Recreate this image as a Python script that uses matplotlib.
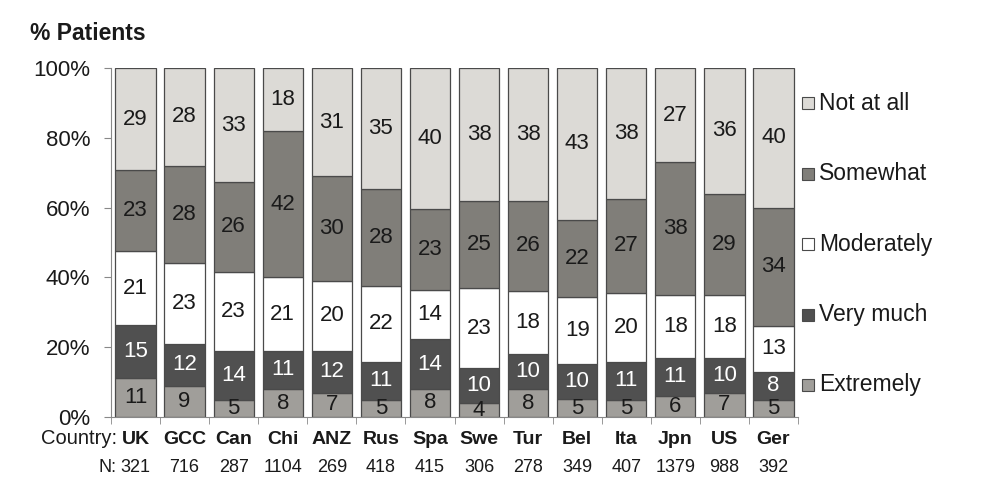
import numpy as np
import matplotlib.pyplot as plt
from matplotlib.patches import Rectangle

plt.rcParams['font.family'] = ['Liberation Sans', 'DejaVu Sans']

countries = ['UK', 'GCC', 'Can', 'Chi', 'ANZ', 'Rus', 'Spa', 'Swe', 'Tur', 'Bel', 'Ita', 'Jpn', 'US', 'Ger']
n_patients = [321, 716, 287, 1104, 269, 418, 415, 306, 278, 349, 407, 1379, 988, 392]

categories = ['Extremely', 'Very much', 'Moderately', 'Somewhat', 'Not at all']
extremely = [11, 9, 5, 8, 7, 5, 8, 4, 8, 5, 5, 6, 7, 5]
very_much = [15, 12, 14, 11, 12, 11, 14, 10, 10, 10, 11, 11, 10, 8]
moderately = [21, 23, 23, 21, 20, 22, 14, 23, 18, 19, 20, 18, 18, 13]
somewhat = [23, 28, 26, 42, 30, 28, 23, 25, 26, 22, 27, 38, 29, 34]
not_at_all = [29, 28, 33, 18, 31, 35, 40, 38, 38, 43, 38, 27, 36, 40]

colors = ['#a09e9a', '#505050', '#ffffff', '#807e79', '#dcdad6']
text_colors = ['#1a1a1a', 'white', '#1a1a1a', '#1a1a1a', '#1a1a1a']
edge = '#4a4a4a'

series = np.array([extremely, very_much, moderately, somewhat, not_at_all], dtype=float)
scaled = series / series.sum(axis=0) * 100

fig = plt.figure(figsize=(9.83, 4.99), dpi=100)
ax = fig.add_axes([111 / 983, 1 - 417 / 499, 687 / 983, 349 / 499])

x = np.arange(len(countries))
bottom = np.zeros(len(countries))
for i in range(len(categories)):
    ax.bar(x, scaled[i], 0.82, bottom=bottom, color=colors[i], edgecolor=edge, linewidth=0.9)
    for j in range(len(countries)):
        ax.text(x[j], bottom[j] + scaled[i][j] / 2, str(int(series[i][j])),
                ha='center', va='center', fontsize=16, color=text_colors[i])
    bottom += scaled[i]

ax.set_xlim(-0.5, len(countries) - 0.5)
ax.set_ylim(0, 100)
ax.set_yticks([0, 20, 40, 60, 80, 100])
ax.set_yticklabels(['0%', '20%', '40%', '60%', '80%', '100%'], fontsize=16, color='#1a1a1a')
ax.tick_params(axis='y', length=5, color='#888888', pad=10)
ax.set_xticks(x)
ax.set_xticklabels(countries, fontsize=14, fontweight='bold', color='#1a1a1a')
ax.tick_params(axis='x', length=0, pad=10)
ax.set_xticks(np.arange(-0.5, len(countries)), minor=True)
ax.tick_params(axis='x', which='minor', length=5, color='#888888')
for s in ['top', 'right']:
    ax.spines[s].set_visible(False)
for s in ['left', 'bottom']:
    ax.spines[s].set_color('#888888')

fig.text(30 / 983, 1 - 33 / 499, '% Patients', fontsize=16.5, fontweight='bold',
         va='center', ha='left', color='#1a1a1a')
fig.text(117 / 983, 1 - 439 / 499, 'Country:', fontsize=14.5, va='center', ha='right', color='#1a1a1a')
fig.text(116 / 983, 1 - 468 / 499, 'N:', fontsize=13, va='center', ha='right', color='#1a1a1a')
for j in range(len(countries)):
    ax.text(x[j], -51 / 349, str(n_patients[j]), transform=ax.get_xaxis_transform(),
            fontsize=13, ha='center', va='center', color='#1a1a1a')

# legend, top to bottom
leg_y = [103, 174, 244, 315, 385]
for k, i in enumerate(range(len(categories) - 1, -1, -1)):
    y = 1 - leg_y[k] / 499
    fig.patches.append(Rectangle((802 / 983, y - 6 / 499), 12 / 983, 12 / 499,
                                 transform=fig.transFigure, facecolor=colors[i],
                                 edgecolor=edge, linewidth=0.8))
    fig.text(819 / 983, y, categories[i], fontsize=16.5, va='center', ha='left', color='#1a1a1a')

fig.savefig('out.png', dpi=100)
